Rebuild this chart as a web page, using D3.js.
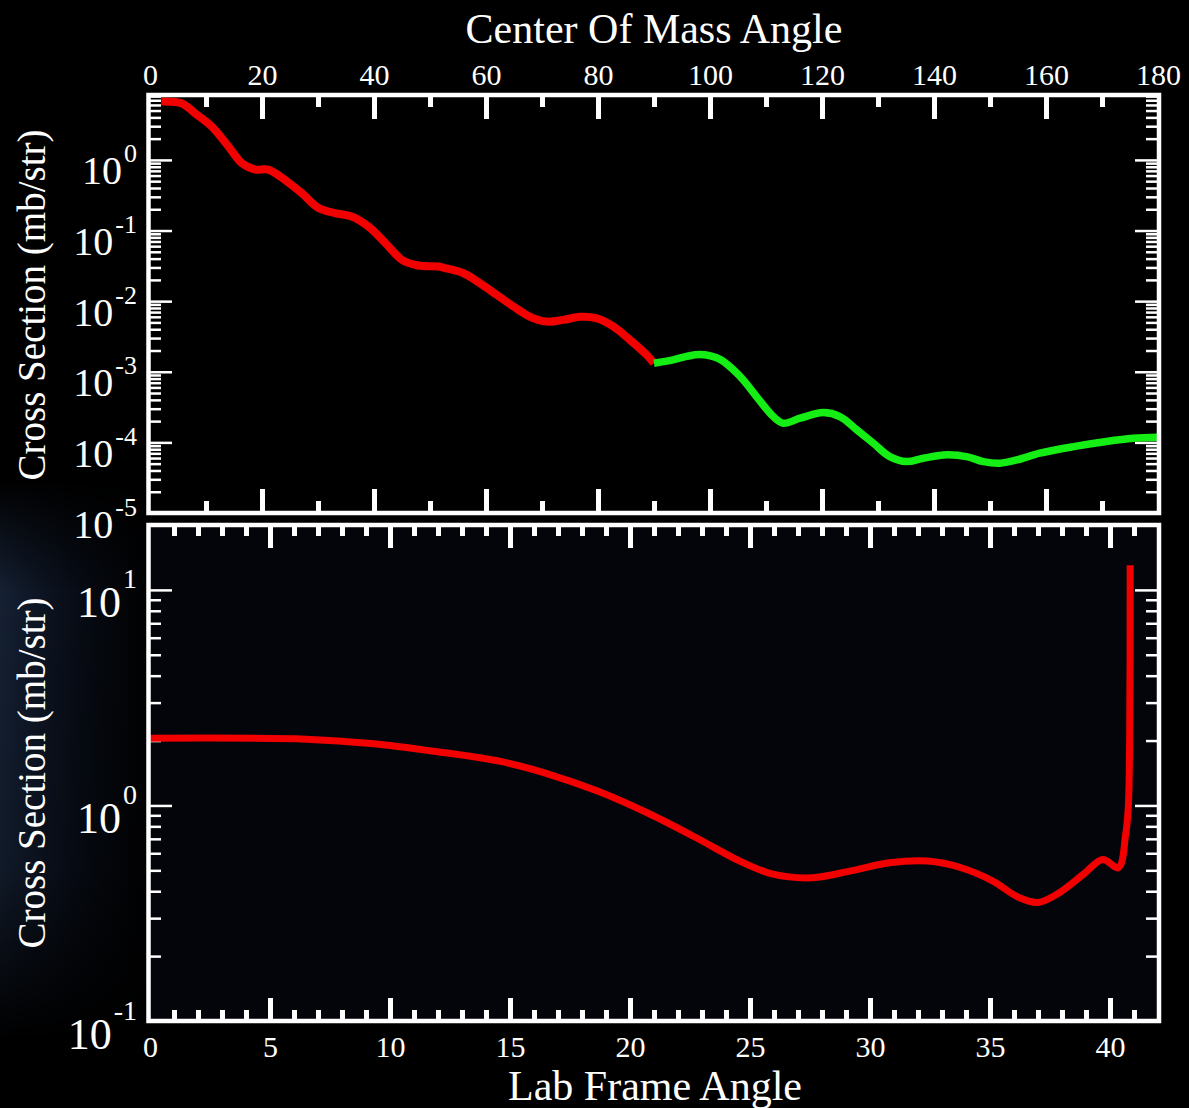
<!DOCTYPE html>
<html>
<head>
<meta charset="utf-8">
<script src="https://cdn.jsdelivr.net/npm/d3@7"></script>
<style>
  html, body { margin: 0; padding: 0; background: #000; }
  svg { display: block; }
</style>
</head>
<body>
<div id="chart"></div>
<script>
// centre of mass frame, red part (0-90 deg)
const cmAngleRed = [2, 5.7, 8, 11, 14, 16.4, 18.8, 21.1, 24.1, 27.1, 30.1, 33, 36, 39, 42, 45, 47.9, 51.5, 53, 55.9, 58.9, 61.9, 64.9, 67.9, 70.8, 73.8, 76.8, 79.8, 82.7, 85.7, 88.7, 90];
const cmSigmaRed = [6.7, 6.3, 4.6, 2.98, 1.55, 0.9, 0.73, 0.73, 0.52, 0.338, 0.208, 0.177, 0.158, 0.114, 0.067, 0.0385, 0.032, 0.031, 0.029, 0.025, 0.018, 0.0123, 0.0084, 0.006, 0.00514, 0.00543, 0.006, 0.0057, 0.0044, 0.00283, 0.00173, 0.00132];
// centre of mass frame, green part (90-180 deg)
const cmAngleGreen = [90, 93.4, 95.8, 98.4, 101.8, 105.4, 108.3, 111.3, 113.1, 116.1, 120.2, 123.2, 126.2, 129.2, 132.1, 135.1, 138.1, 142.3, 145.8, 148.8, 151.8, 154.8, 158.9, 164.9, 170.8, 175.6, 180];
const cmSigmaGreen = [0.00132, 0.00147, 0.00165, 0.00175, 0.0015, 0.000855, 0.000446, 0.000232, 0.000187, 0.00022, 0.000264, 0.000232, 0.000151, 0.0000967, 0.0000629, 0.0000535, 0.0000597, 0.0000666, 0.0000629, 0.0000535, 0.0000508, 0.0000565, 0.0000703, 0.000087, 0.000103, 0.000114, 0.000118];
// lab frame
const labAngle = [0, 6.5, 9.2, 11.9, 14.6, 16.5, 18.7, 20.8, 22.7, 24.6, 25.95, 27.6, 29.2, 30.8, 32.4, 33.8, 35.1, 36.2, 37.0, 37.8, 38.9, 39.7, 40.35, 40.65, 40.76, 40.82, 40.84];
const labSigma = [2.05, 2.03, 1.94, 1.78, 1.6, 1.41, 1.16, 0.915, 0.714, 0.55, 0.48, 0.462, 0.497, 0.542, 0.552, 0.514, 0.447, 0.374, 0.355, 0.388, 0.48, 0.562, 0.514, 0.73, 0.97, 2.1, 13];

// ticks
const cmLabelTicks = [0, 20, 40, 60, 80, 100, 120, 140, 160, 180];
const cmMinorTicks = [10, 30, 50, 70, 90, 110, 130, 150, 170];
const labLabelTicks = [0, 5, 10, 15, 20, 25, 30, 35, 40];
const labMinorTicks = [1, 2, 3, 4, 6, 7, 8, 9, 11, 12, 13, 14, 16, 17, 18, 19, 21, 22, 23, 24, 26, 27, 28, 29, 31, 32, 33, 34, 36, 37, 38, 39, 41];
const topDecades = [1e-5, 1e-4, 1e-3, 1e-2, 1e-1, 1];
const topMinor = [2e-5, 3e-5, 4e-5, 5e-5, 6e-5, 7e-5, 8e-5, 9e-5, 2e-4, 3e-4, 4e-4, 5e-4, 6e-4, 7e-4, 8e-4, 9e-4, 2e-3, 3e-3, 4e-3, 5e-3, 6e-3, 7e-3, 8e-3, 9e-3, 0.02, 0.03, 0.04, 0.05, 0.06, 0.07, 0.08, 0.09, 0.2, 0.3, 0.4, 0.5, 0.6, 0.7, 0.8, 0.9, 2, 3, 4, 5, 6, 7, 8];
const bottomDecades = [0.1, 1, 10];
const bottomMinor = [0.2, 0.3, 0.4, 0.5, 0.6, 0.7, 0.8, 0.9, 2, 3, 4, 5, 6, 7, 8, 9];

const width = 1189;
const height = 1108;
const font = "'Liberation Serif', 'DejaVu Serif', serif";

const svg = d3.select("#chart").append("svg")
  .attr("width", width)
  .attr("height", height);

svg.append("rect").attr("width", width).attr("height", height).attr("fill", "#000");

// faint bluish glow on the lower left, as in the video frame
const defs = svg.append("defs");
const grad = defs.append("linearGradient").attr("id", "glow").attr("x1", 0).attr("x2", 1);
grad.append("stop").attr("offset", "0").attr("stop-color", "#1c2b44").attr("stop-opacity", 0.75);
grad.append("stop").attr("offset", "0.5").attr("stop-color", "#14203a").attr("stop-opacity", 0.35);
grad.append("stop").attr("offset", "1").attr("stop-color", "#101a2c").attr("stop-opacity", 0);
const vgrad = defs.append("linearGradient").attr("id", "vfade").attr("x1", 0).attr("x2", 0).attr("y1", 0).attr("y2", 1);
vgrad.append("stop").attr("offset", "0").attr("stop-color", "#fff").attr("stop-opacity", 0);
vgrad.append("stop").attr("offset", "0.2").attr("stop-color", "#fff").attr("stop-opacity", 1);
vgrad.append("stop").attr("offset", "0.7").attr("stop-color", "#fff").attr("stop-opacity", 0.8);
vgrad.append("stop").attr("offset", "1").attr("stop-color", "#fff").attr("stop-opacity", 0);
defs.append("mask").attr("id", "glowMask")
  .append("rect").attr("x", 0).attr("y", 480).attr("width", 160).attr("height", 560).attr("fill", "url(#vfade)");
svg.append("rect").attr("x", 0).attr("y", 480).attr("width", 160).attr("height", 560)
  .attr("fill", "url(#glow)").attr("mask", "url(#glowMask)");
svg.append("rect").attr("x", 150).attr("y", 525).attr("width", 1008).attr("height", 496).attr("fill", "#03050a");

const xTop = d3.scaleLinear().domain([0, 180]).range([150, 1158]);
const yTop = d3.scaleLog().domain([1e-5, 8.3]).range([513, 95]);
const xBot = d3.scaleLinear().domain([0, 42]).range([150, 1158]);
const yBot = d3.scaleLog().domain([0.1, 20]).range([1021, 525]);

function styleAxis(g, sw) {
  g.select(".domain").remove();
  g.attr("font-family", font).attr("font-size", null);
  g.selectAll("line").attr("stroke", "#fff").attr("stroke-width", sw);
  g.selectAll("text").attr("fill", "#fff");
}

function xTicks(x, yTopEdge, yBotEdge, labels, minor, majLen, minLen, labelY) {
  const ends = x.domain();
  // top edge, labels only on the outer one
  const gt = svg.append("g").attr("transform", `translate(0,${yTopEdge})`)
    .call(d3.axisTop(x).tickValues(labels).tickSize(-majLen).tickFormat(labelY === "top" ? d => d : () => ""));
  styleAxis(gt, 5);
  gt.selectAll("text").style("font-size", "30px").attr("y", -10).attr("dy", null);
  svg.append("g").attr("transform", `translate(0,${yTopEdge})`)
    .call(d3.axisTop(x).tickValues(minor).tickSize(-minLen).tickFormat(() => ""))
    .call(g => styleAxis(g, 5));
  const gb = svg.append("g").attr("transform", `translate(0,${yBotEdge})`)
    .call(d3.axisBottom(x).tickValues(labels).tickSize(-majLen).tickFormat(labelY === "bottom" ? d => d : () => ""));
  styleAxis(gb, 5);
  gb.selectAll("text").style("font-size", "30px").attr("y", 36).attr("dy", null);
  svg.append("g").attr("transform", `translate(0,${yBotEdge})`)
    .call(d3.axisBottom(x).tickValues(minor).tickSize(-minLen).tickFormat(() => ""))
    .call(g => styleAxis(g, 5));
  // no tick lines where they sit on the frame
  svg.selectAll(".tick").filter(d => d === ends[0] || d === ends[1]).select("line").remove();
}

function yTicks(y, decades, minor, labelSize, supSize, baseOff, supOff) {
  const gl = svg.append("g").attr("transform", "translate(150,0)")
    .call(d3.axisLeft(y).tickValues(decades).tickSize(-22).tickFormat(() => ""));
  styleAxis(gl, 2.5);
  gl.selectAll(".tick text").each(function(d) {
    const t = d3.select(this);
    t.attr("x", -13).attr("y", baseOff).attr("dy", null).attr("text-anchor", "end").style("font-size", labelSize + "px");
    t.append("tspan").text("10");
    t.append("tspan").attr("dy", supOff).attr("dx", 2).style("font-size", supSize + "px").text(Math.round(Math.log10(d)));
  });
  svg.append("g").attr("transform", "translate(150,0)")
    .call(d3.axisLeft(y).tickValues(minor).tickSize(-11).tickFormat(() => ""))
    .call(g => styleAxis(g, 2.5));
  svg.append("g").attr("transform", "translate(1157,0)")
    .call(d3.axisRight(y).tickValues(decades).tickSize(-22).tickFormat(() => ""))
    .call(g => styleAxis(g, 2.5));
  svg.append("g").attr("transform", "translate(1157,0)")
    .call(d3.axisRight(y).tickValues(minor).tickSize(-11).tickFormat(() => ""))
    .call(g => styleAxis(g, 2.5));
}

// top panel
xTicks(xTop, 95, 513, cmLabelTicks, cmMinorTicks, 24, 12, "top");
yTicks(yTop, topDecades, topMinor, 40, 26, 24, -22);
// bottom panel
xTicks(xBot, 525, 1021, labLabelTicks, labMinorTicks, 23, 11, "bottom");
yTicks(yBot, bottomDecades, bottomMinor, 44, 28, 27, -29);

// curves
function curve(x, y, ax, sig, color, w) {
  const line = d3.line()
    .x(d => x(d[0]))
    .y(d => y(d[1]))
    .curve(d3.curveCatmullRom.alpha(0.5));
  svg.append("path")
    .datum(d3.zip(ax, sig))
    .attr("d", line)
    .attr("fill", "none")
    .attr("stroke", color)
    .attr("stroke-width", w)
    .attr("stroke-linejoin", "round");
}
curve(xTop, yTop, cmAngleRed, cmSigmaRed, "#f20000", 8);
curve(xTop, yTop, cmAngleGreen, cmSigmaGreen, "#14ee14", 7.5);
curve(xBot, yBot, labAngle, labSigma, "#f20000", 7);

// frames
svg.append("rect").attr("x", 148.5).attr("y", 95).attr("width", 1010.5).attr("height", 418)
  .attr("fill", "none").attr("stroke", "#fff").attr("stroke-width", 4.5);
svg.append("rect").attr("x", 148.5).attr("y", 525).attr("width", 1010.5).attr("height", 496)
  .attr("fill", "none").attr("stroke", "#fff").attr("stroke-width", 4.5);

// titles
function title(txt, x, y, rot) {
  svg.append("text")
    .attr("transform", `translate(${x},${y})` + (rot ? " rotate(-90)" : ""))
    .attr("text-anchor", "middle")
    .attr("fill", "#fff")
    .attr("font-family", font)
    .style("font-size", rot ? "39px" : "42px")
    .text(txt);
}
title("Center Of Mass Angle", 654, 43, false);
title("Lab Frame Angle", 655, 1100, false);
title("Cross Section (mb/str)", 45, 305, true);
title("Cross Section (mb/str)", 45, 773, true);
</script>
</body>
</html>
